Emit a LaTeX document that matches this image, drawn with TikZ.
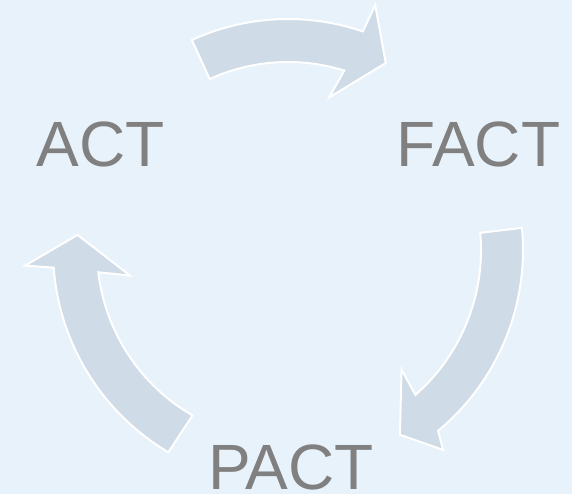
\documentclass[tikz,border=0pt]{standalone}
\usepackage{fontspec}
\setmainfont{Liberation Sans}
\usetikzlibrary{calc}
\definecolor{bgcol}{RGB}{232,242,251}
\definecolor{arrowcol}{RGB}{207,219,230}
\definecolor{txtcol}{RGB}{128,128,128}
\begin{document}
\begin{tikzpicture}[x=1pt,y=1pt,
  cyclearrow/.style={fill=arrowcol,draw=white,line width=2pt,line join=miter},
  label/.style={text=txtcol,font=\fontsize{64}{64}\selectfont,inner sep=0pt,anchor=base}]
\useasboundingbox (0,0) rectangle (572,494);
\fill[bgcol] (0,0) rectangle (572,494);
\coordinate (C) at (288,244);
% top arrow (ACT -> FACT)
\draw[cyclearrow] ($(C)+(114.6:231)$) arc[start angle=114.6,end angle=71.1,radius=231]
  -- ($(C)+(70.4:260)$) -- ($(C)+(62.4:211)$) -- ($(C)+(74.9:158)$)
  -- ($(C)+(72.6:188)$) arc[start angle=72.6,end angle=114.6,radius=188] -- cycle;
% right arrow (FACT -> PACT)
\draw[cyclearrow] ($(C)+(5.4:235)$) arc[start angle=5.4,end angle=-50.3,radius=235]
  -- ($(C)+(-52.2:253)$) -- ($(C)+(-58.8:216)$) -- ($(C)+(-46.5:165)$)
  -- ($(C)+(-48.7:193)$) arc[start angle=-48.7,end angle=5.1,radius=193] -- cycle;
% left arrow (PACT -> ACT)
\draw[cyclearrow] ($(C)+(239.4:235)$) arc[start angle=239.4,end angle=184.3,radius=235]
  -- ($(C)+(183.4:263.5)$) -- ($(C)+(175.9:211)$) -- ($(C)+(189.2:160)$)
  -- ($(C)+(186.7:191)$) arc[start angle=186.7,end angle=240,radius=191] -- cycle;
\node[label] (act) at (100.5,327.7) {ACT};
\node[label] (fact) at (478.5,327.7) {FACT};
\node[label] (pact) at (291,4) {PACT};
\end{tikzpicture}
\end{document}
